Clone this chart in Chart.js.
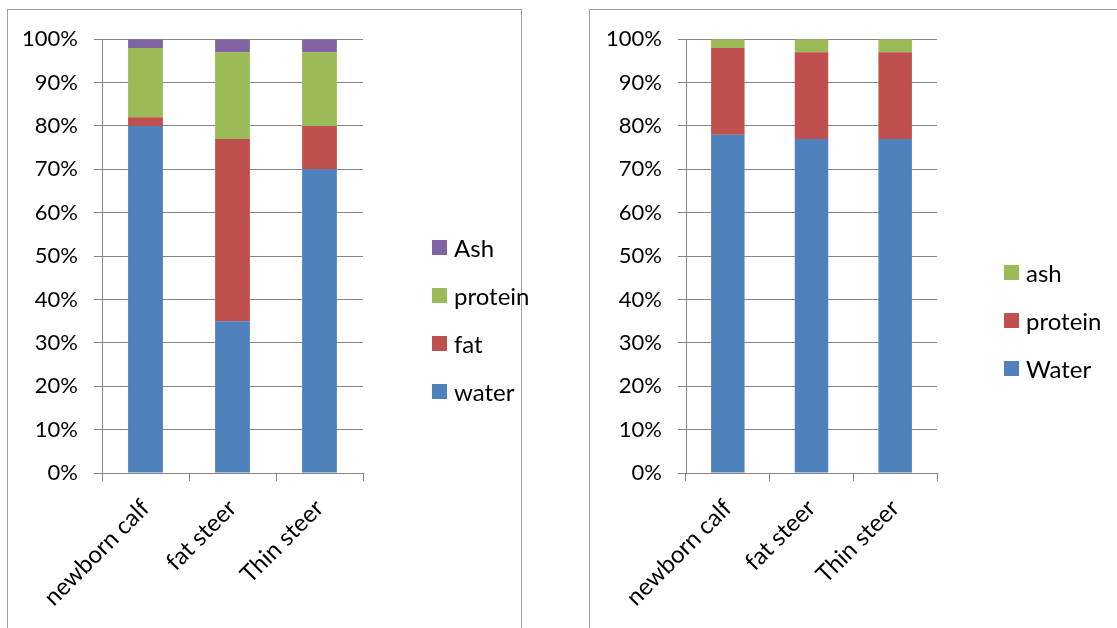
<!DOCTYPE html>
<html lang="en">
<head>
    <meta charset="UTF-8">
    <title>Body composition</title>
    <script src="https://cdn.jsdelivr.net/npm/chart.js"></script>
    <style>
        body {
            margin: 0;
            padding: 0;
            width: 1117px;
            height: 628px;
            overflow: hidden;
            background-color: #fff;
            font-family: Lato, sans-serif;
        }

        .panel {
            position: absolute;
            border: 1px solid #a0a0a0;
            background-color: #fff;
        }

        #panel-left {
            left: 7px;
            top: 9px;
            width: 513px;
            height: 650px;
        }

        #panel-right {
            left: 589px;
            top: 9px;
            width: 560px;
            height: 650px;
        }

        .panel canvas {
            position: absolute;
            left: 0;
            top: 0;
        }

        .legend {
            position: absolute;
            font-size: 24px;
            color: #000;
        }

        .legend-item {
            display: flex;
            align-items: center;
            height: 48px;
        }

        .legend-box {
            width: 15px;
            height: 15px;
            margin-right: 7px;
        }
    </style>
</head>
<body>

<div class="panel" id="panel-left">
    <canvas id="chart1" width="513" height="618"></canvas>
    <div class="legend" id="legend1" style="left: 424px; top: 213px;"></div>
</div>

<div class="panel" id="panel-right">
    <canvas id="chart2" width="527" height="618"></canvas>
    <div class="legend" id="legend2" style="left: 414px; top: 238px;"></div>
</div>

<script>
    // categories and values (percent of body weight)
    var categories = ['newborn calf', 'fat steer', 'Thin steer'];
    var yTicks = [0, 10, 20, 30, 40, 50, 60, 70, 80, 90, 100];

    // left chart
    var water1 = [80, 35, 70];
    var fat1 = [2, 42, 10];
    var protein1 = [16, 20, 17];
    var ash1 = [2, 3, 3];

    // right chart
    var water2 = [78, 77, 77];
    var protein2 = [20, 20, 20];
    var ash2 = [2, 3, 3];

    var blue = '#4F81BD';
    var red = '#C0504D';
    var green = '#9BBB59';
    var purple = '#8064A2';
    var gridColor = '#868686';

    function makeChart(canvasId, legendId, datasets, axisWidth, rightPad) {
        var ctx = document.getElementById(canvasId).getContext('2d');
        new Chart(ctx, {
            type: 'bar',
            data: {
                labels: categories,
                datasets: datasets.map(function (d) {
                    return {
                        label: d.label,
                        data: d.data,
                        backgroundColor: d.color,
                        borderWidth: 0,
                        categoryPercentage: 1,
                        barPercentage: 0.4
                    };
                })
            },
            options: {
                responsive: false,
                animation: false,
                layout: {
                    padding: {left: 0, top: 29, right: rightPad, bottom: 0}
                },
                plugins: {
                    legend: {display: false},
                    tooltip: {enabled: false}
                },
                scales: {
                    x: {
                        stacked: true,
                        afterFit: function (scale) { scale.height = 155; },
                        grid: {
                            display: true,
                            drawOnChartArea: false,
                            drawTicks: true,
                            tickLength: 8,
                            color: gridColor,
                            offset: true
                        },
                        border: {display: true, color: gridColor, width: 1},
                        ticks: {
                            color: '#000',
                            minRotation: 45,
                            maxRotation: 45,
                            padding: 13,
                            font: {family: 'Lato', size: 24}
                        }
                    },
                    y: {
                        stacked: true,
                        min: 0,
                        max: 100,
                        afterFit: function (scale) { scale.width = axisWidth; },
                        afterBuildTicks: function (scale) {
                            scale.ticks = yTicks.map(function (v) { return {value: v}; });
                        },
                        grid: {
                            color: gridColor,
                            lineWidth: 1,
                            tickLength: 8
                        },
                        border: {display: true, color: gridColor, width: 1},
                        ticks: {
                            color: '#000',
                            padding: 16,
                            font: {family: 'Lato', size: 22},
                            callback: function (value) { return value + '%'; }
                        }
                    }
                }
            }
        });

        // legend, top item = last stacked series
        var legend = document.getElementById(legendId);
        datasets.slice().reverse().forEach(function (d) {
            var item = document.createElement('div');
            item.className = 'legend-item';
            var box = document.createElement('div');
            box.className = 'legend-box';
            box.style.backgroundColor = d.color;
            var text = document.createElement('span');
            text.textContent = d.label;
            item.appendChild(box);
            item.appendChild(text);
            legend.appendChild(item);
        });
    }

    makeChart('chart1', 'legend1', [
        {label: 'water', data: water1, color: blue},
        {label: 'fat', data: fat1, color: red},
        {label: 'protein', data: protein1, color: green},
        {label: 'Ash', data: ash1, color: purple}
    ], 94, 158);

    makeChart('chart2', 'legend2', [
        {label: 'Water', data: water2, color: blue},
        {label: 'protein', data: protein2, color: red},
        {label: 'ash', data: ash2, color: green}
    ], 96, 180);
</script>
</body>
</html>
